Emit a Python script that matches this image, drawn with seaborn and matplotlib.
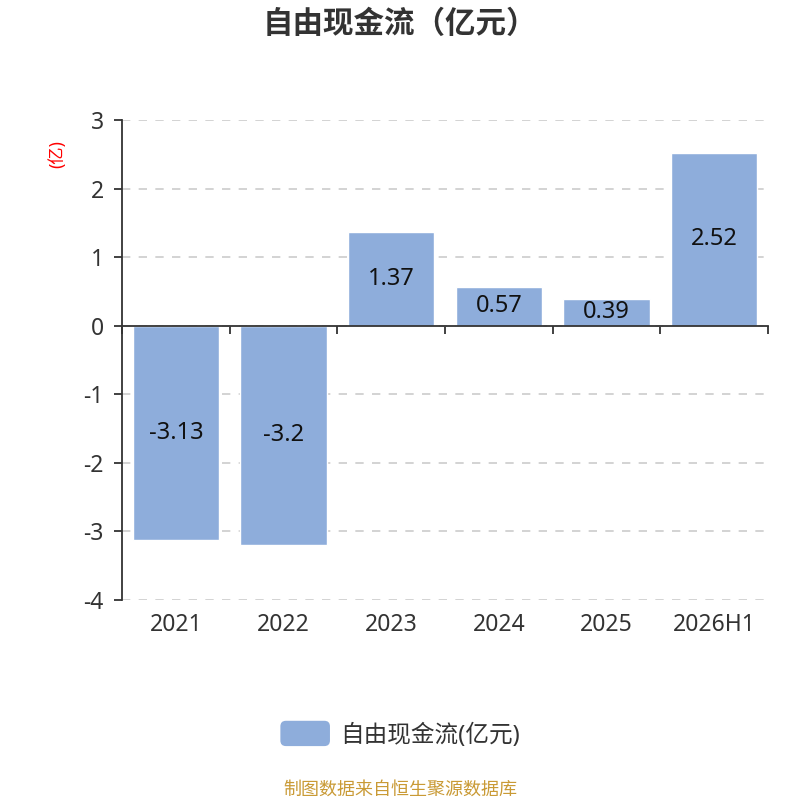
import numpy as np
import pandas as pd
import seaborn as sns
import matplotlib.pyplot as plt
from matplotlib.patches import FancyBboxPatch
from matplotlib.legend_handler import HandlerPatch
from matplotlib.transforms import blended_transform_factory

# data
years = ["2021", "2022", "2023", "2024", "2025", "2026H1"]
values = [-3.13, -3.2, 1.37, 0.57, 0.39, 2.52]
value_labels = ["-3.13", "-3.2", "1.37", "0.57", "0.39", "2.52"]
y_ticks = [-4, -3, -2, -1, 0, 1, 2, 3]

series_name = "自由现金流(亿元)"
bar_color = "#8eaddb"
text_color = "#333333"

sns.set_theme(style="white")
plt.rcParams['font.family'] = ['Noto Sans', 'Noto Sans CJK SC', 'DejaVu Sans']

df = pd.DataFrame({"year": years, "value": values})

fig = plt.figure(figsize=(8, 8), dpi=100)
ax = fig.add_axes([0.1525, 0.25, 0.8075, 0.60])

sns.barplot(data=df, x="year", y="value", color=bar_color, width=0.8,
            saturation=1, ax=ax, label=series_name, legend=False)

ax.set_xlim(-0.5, len(years) - 0.5)
ax.set_ylim(-4, 3)
ax.set_yticks(y_ticks)
ax.set_yticklabels([str(t) for t in y_ticks], fontsize=16.5, color=text_color)
ax.yaxis.grid(True, linestyle=(0, (5, 5)), color="#cccccc", linewidth=1.2)
ax.set_axisbelow(True)

# spines
for s in ["top", "right"]:
    ax.spines[s].set_visible(False)
ax.spines["left"].set_color(text_color)
ax.spines["left"].set_linewidth(1.3)
ax.spines["bottom"].set_position(("data", 0))
ax.spines["bottom"].set_color(text_color)
ax.spines["bottom"].set_linewidth(1.3)
ax.tick_params(axis="y", left=True, length=6, width=1.3, color=text_color, pad=7)

# x ticks at category boundaries on the zero line, labels at the bottom
ax.set_xticks(np.arange(len(years) + 1) - 0.5)
ax.set_xticklabels([])
ax.tick_params(axis="x", bottom=True, length=6, width=1.3, color=text_color)
trans = blended_transform_factory(ax.transData, ax.transAxes)
for i, yr in enumerate(years):
    ax.text(i, -0.052, yr, transform=trans, ha="center", va="center",
            fontsize=16.5, color=text_color)

# value labels in the middle of each bar
for i, (v, lab) in enumerate(zip(values, value_labels)):
    ax.text(i, v / 2, lab, ha="center", va="center", fontsize=17, color="#111111")

ax.set_xlabel("")
ax.set_ylabel("(亿)", color="red", fontsize=12.5, rotation=90)
ax.yaxis.set_label_coords(-0.087, 0.929)

fig.suptitle("自由现金流（亿元）", fontsize=22, fontweight="bold", color=text_color, y=0.988)


class RoundHandler(HandlerPatch):
    def create_artists(self, legend, orig_handle, xdescent, ydescent, width, height, fontsize, trans):
        p = FancyBboxPatch((-xdescent, -ydescent - 1.5), width, height + 3,
                           boxstyle="round,pad=0,rounding_size=4",
                           facecolor=bar_color, edgecolor="none", transform=trans)
        return [p]


handles, labels = ax.get_legend_handles_labels()
leg = fig.legend(handles[:1], [series_name], loc="center", bbox_to_anchor=(0.5, 0.081),
                 frameon=False, fontsize=17, handlelength=2.1, handleheight=1.0,
                 handletextpad=0.42, labelcolor=text_color,
                 handler_map={type(handles[0]): RoundHandler()})

fig.text(0.5, 0.013, "制图数据来自恒生聚源数据库", ha="center", va="center",
         fontsize=13, color="#c99a35")

fig.savefig("out.png", dpi=100)
